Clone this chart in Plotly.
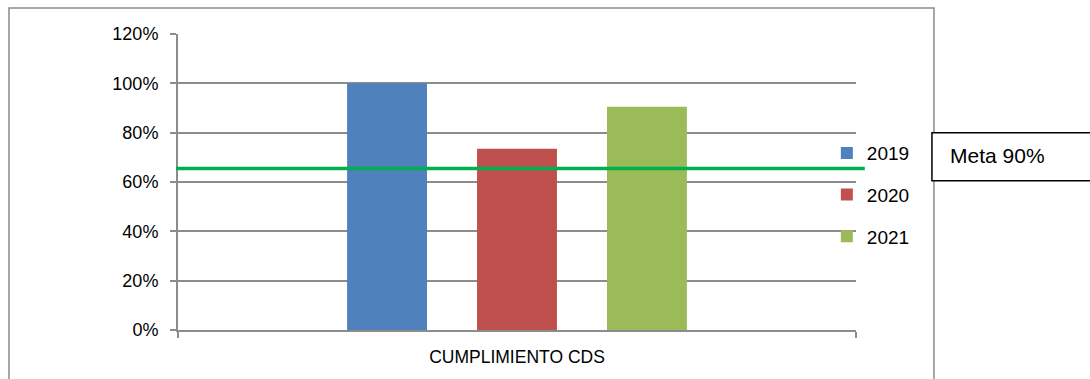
import plotly.graph_objects as go

# Datos del indicador
categoria = ["CUMPLIMIENTO CDS"]
anios = ["2019", "2020", "2021"]
cumplimiento = [1.00, 0.735, 0.905]
colores = ["#4F81BD", "#C0504D", "#9BBB59"]
linea_meta = 0.655
texto_meta = "Meta 90%"
y_ticks = [0, 0.2, 0.4, 0.6, 0.8, 1.0, 1.2]

FONT = "Liberation Sans"

fig = go.Figure()
for anio, val, col in zip(anios, cumplimiento, colores):
    fig.add_trace(go.Bar(
        x=categoria, y=[val], name=anio, marker=dict(color=col, line=dict(width=0)),
        legendgroup=anio,
    ))

# Línea de meta
fig.add_shape(type="line", xref="paper", yref="y", x0=-0.003, x1=1.013,
              y0=linea_meta, y1=linea_meta, line=dict(color="#00B050", width=3.5))

# Marco exterior del gráfico
fig.add_shape(type="rect", xref="paper", yref="paper", x0=-0.2493, x1=1.1150,
              y0=-0.3, y1=1.0877, line=dict(color="#8C8C8C", width=1.5), layer="below")

# Recuadro de la meta
fig.add_shape(type="rect", xref="paper", yref="paper", x0=1.112, x1=1.36,
              y0=0.504, y1=0.666, line=dict(color="#000000", width=1.5),
              fillcolor="white")
fig.add_annotation(text=texto_meta, xref="paper", yref="paper", x=1.135, y=0.588,
                   xanchor="left", yanchor="middle", showarrow=False,
                   font=dict(family=FONT, size=21, color="#000000"))

fig.update_layout(
    width=1090, height=379,
    margin=dict(l=178, r=234, t=34, b=48.5),
    paper_bgcolor="white", plot_bgcolor="white",
    barmode="group", bargap=0.425, bargroupgap=0.385,
    font=dict(family=FONT, size=14, color="#000000"),
    showlegend=True,
    legend=dict(x=0.957, y=0.662, xanchor="left", yanchor="top",
                font=dict(family=FONT, size=19), tracegroupgap=14,
                bgcolor="rgba(0,0,0,0)"),
    xaxis=dict(showgrid=False, showline=True, linecolor="#8C8C8C", linewidth=2,
               ticks="outside", tickson="boundaries", ticklen=6, tickcolor="#8C8C8C",
               tickwidth=2, tickfont=dict(size=17.5), ticklabelstandoff=10,
               fixedrange=True),
    yaxis=dict(range=[0, 1.2], tickvals=y_ticks, tickformat=".0%",
               showgrid=True, gridcolor="#8C8C8C", gridwidth=1.5,
               showline=True, linecolor="#8C8C8C", linewidth=2,
               ticks="outside", ticklen=6, tickcolor="#8C8C8C", tickwidth=1.5,
               tickfont=dict(size=18), ticklabelstandoff=8, zeroline=False),
)

fig.write_html("out.html")
